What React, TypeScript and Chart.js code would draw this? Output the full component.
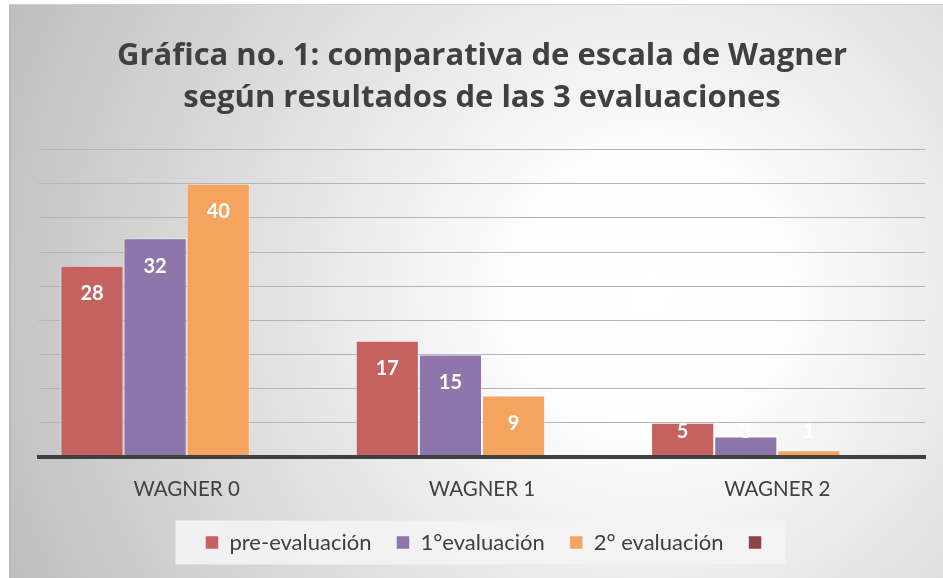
import React, { useEffect, useRef } from "react";
import { Chart, registerables } from "chart.js";

Chart.register(...registerables);

const categories = ["WAGNER 0", "WAGNER 1", "WAGNER 2"];
const seriesNames = ["pre-evaluación", "1°evaluación", "2° evaluación", ""];
const preEvaluacion = [28, 17, 5];
const primeraEvaluacion = [32, 15, 3];
const segundaEvaluacion = [40, 9, 1];
const cuartaSerie: (number | null)[] = [null, null, null];
const titleLines = [
  "Gráfica no. 1: comparativa de escala de Wagner",
  "según resultados de las 3 evaluaciones",
];
const yMin = 0;
const yMax = 45;
const yStep = 5;

const seriesColors = ["#C5625F", "#8E76AA", "#F4A45F", "#8B4545"];
const FONT = "Lato, 'Open Sans', sans-serif";
const TITLE_FONT = "'Open Sans', Lato, sans-serif";
const LEGEND_SHIFT = 7;

const bgPlugin = {
  id: "bgPanel",
  afterLayout(chart: any) {
    const lg = chart.legend;
    if (lg) {
      lg.left += LEGEND_SHIFT;
      lg.right += LEGEND_SHIFT;
    }
  },
  beforeDraw(chart: any) {
    const { ctx, width, height } = chart;
    ctx.save();
    const g = ctx.createRadialGradient(640, 290, 0, 640, 290, 720);
    g.addColorStop(0, "#ffffff");
    g.addColorStop(0.18, "#fefefe");
    g.addColorStop(1, "#bcbcbc");
    ctx.fillStyle = g;
    ctx.fillRect(0, 0, width, height);
    ctx.fillStyle = "#bababa";
    ctx.fillRect(0, 0, 2, height);
    ctx.fillStyle = "#cfcfcf";
    ctx.fillRect(0, 0, width, 1);
    const lg = chart.legend;
    const hb = lg && lg.legendHitBoxes;
    if (hb && hb.length) {
      const first = hb[0];
      const last = hb[hb.length - 1];
      const cy = first.top + first.height / 2;
      const x0 = first.left - 30;
      const x1 = last.left + last.width + 13;
      ctx.fillStyle = "rgba(243,243,243,0.92)";
      ctx.fillRect(x0, cy - 22, x1 - x0, 44);
    }
    ctx.restore();
  },
};

const valueLabelPlugin = {
  id: "valueLabels",
  afterDatasetsDraw(chart: any) {
    const { ctx } = chart;
    ctx.save();
    ctx.font = `bold 20px ${FONT}`;
    ctx.fillStyle = "#ffffff";
    ctx.textAlign = "center";
    ctx.textBaseline = "middle";
    chart.data.datasets.forEach((ds: any, di: number) => {
      const meta = chart.getDatasetMeta(di);
      meta.data.forEach((bar: any, i: number) => {
        const v = ds.data[i];
        if (v == null) return;
        const p = bar.getProps(["x", "y", "base"], true);
        const y = Math.min(p.y + 28, p.base - 25);
        ctx.fillText(String(v), p.x, y);
      });
    });
    ctx.restore();
  },
};

export default function App() {
  const ref = useRef<HTMLCanvasElement | null>(null);
  useEffect(() => {
    if (!ref.current) return;
    const data = [preEvaluacion, primeraEvaluacion, segundaEvaluacion, cuartaSerie];
    const chart = new Chart(ref.current, {
      type: "bar",
      data: {
        labels: categories,
        datasets: data.map((d, i) => ({
          label: seriesNames[i],
          data: d,
          backgroundColor: seriesColors[i],
          borderColor: "rgba(255,255,255,0.45)",
          borderWidth: 1,
          categoryPercentage: 0.855,
          barPercentage: 1,
        })),
      },
      options: {
        responsive: false,
        animation: false,
        layout: { padding: { left: 30, right: 18, top: 0, bottom: 14.5 } },
        plugins: {
          title: {
            display: true,
            text: titleLines,
            color: "#404040",
            font: { family: TITLE_FONT, size: 31, weight: "bold", lineHeight: 42 / 31 },
            padding: { top: 31, bottom: 30.5 },
          },
          legend: {
            position: "bottom",
            labels: {
              boxWidth: 13,
              boxHeight: 13,
              padding: 25,
              color: "#404040",
              font: { family: FONT, size: 22 },
            },
          },
          tooltip: { enabled: false },
        },
        scales: {
          x: {
            grid: { display: false, drawTicks: false },
            border: { display: true, color: "#404040", width: 4, z: 1 },
            ticks: { color: "#404040", font: { family: FONT, size: 20.5 }, padding: 20 },
            afterFit(s: any) {
              s.height = 49.5;
            },
          },
          y: {
            min: yMin,
            max: yMax,
            ticks: { display: false, stepSize: yStep },
            grid: { color: "#b4b4b4", lineWidth: 1, drawTicks: false },
            border: { display: false },
            afterFit(s: any) {
              s.width = 0;
            },
          },
        },
      } as any,
      plugins: [bgPlugin, valueLabelPlugin],
    });
    return () => chart.destroy();
  }, []);
  return (
    <div style={{ position: "fixed", left: 9, top: 4, width: 934, height: 574 }}>
      <canvas ref={ref} width={934} height={574} style={{ display: "block" }} />
    </div>
  );
}
